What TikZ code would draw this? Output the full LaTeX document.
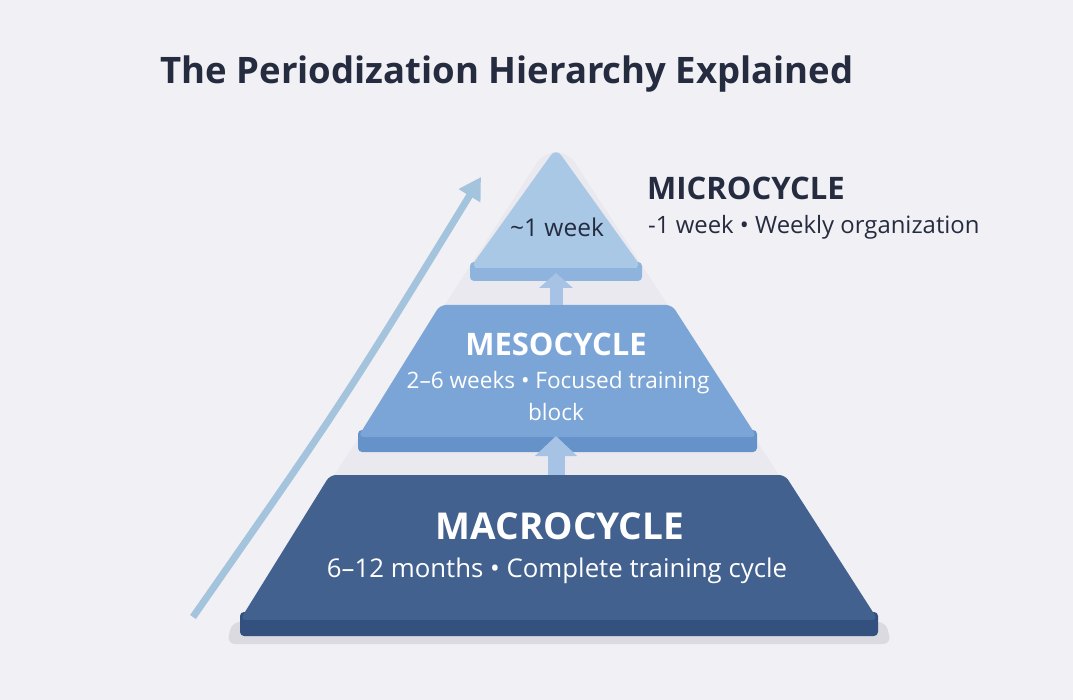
\documentclass[tikz,border=0pt]{standalone}
\usepackage{fontspec}
\setmainfont{Open Sans}
\usetikzlibrary{arrows.meta}
\definecolor{pageColor}{HTML}{F1F0F4}
\definecolor{hazeColor}{HTML}{EAE9EF}
\definecolor{shadowColor}{HTML}{DADAE0}
\definecolor{inkColor}{HTML}{252C40}
\definecolor{microFace}{HTML}{A9C8E6}
\definecolor{microSide}{HTML}{8EB3DD}
\definecolor{mesoFace}{HTML}{7BA5D6}
\definecolor{mesoSide}{HTML}{6592C9}
\definecolor{macroFace}{HTML}{42618F}
\definecolor{macroSide}{HTML}{33507E}
\definecolor{stepColor}{HTML}{A6C2E4}
\definecolor{riseColor}{HTML}{A4C4DE}

\begin{document}
\begin{tikzpicture}[
            x=1pt, y=-1pt,
            every node/.append style={inner sep=0pt},
            tier face/.style={rounded corners=6pt},
            tier side/.style={rounded corners=4pt},
            step arrow/.style={draw=stepColor, line width=13pt, -{Triangle[width=33pt, length=15pt]}},
            big step arrow/.style={draw=stepColor, line width=17pt, -{Triangle[width=41pt, length=20pt]}},
            heading/.style={font=\bfseries\fontsize{31pt}{34pt}\selectfont},
            detail/.style={font=\fontsize{22.6pt}{27pt}\selectfont},
        ]
        \fill[pageColor] (0,0) rectangle (1073,700);
        \useasboundingbox (0,0) rectangle (1073,700);
        \fill[hazeColor, rounded corners=12pt] (544,152) -- (568,152) -- (888,642) -- (226,642) -- cycle;
        \fill[shadowColor, rounded corners=8pt] (232,622) -- (886,622) -- (891,644) -- (227,644) -- cycle;

        % tiers, bottom to top
        \fill[macroSide, tier side] (240,612) -- (878,612) -- (878,636) -- (240,636) -- cycle;
        \fill[macroFace, tier face] (330,475) -- (785,475) -- (878,620) -- (240,620) -- cycle;
        \fill[mesoSide, tier side] (358,430) -- (757,430) -- (757,452) -- (358,452) -- cycle;
        \fill[mesoFace, tier face] (440,305) -- (672,305) -- (757,437) -- (358,437) -- cycle;
        \fill[microSide, tier side] (470,262) -- (642,262) -- (642,281) -- (470,281) -- cycle;
        \fill[microFace, rounded corners=9pt] (556,148) -- (642,268) -- (470,268) -- cycle;
        \fill[microFace] (475,262) rectangle (637,268);

        \coordinate (microbottom) at (556,273);
        \coordinate (mesotop) at (556,305);
        \coordinate (mesobottom) at (556,436);
        \coordinate (macrotop) at (556,475);
        \draw[step arrow] (mesotop) -- (microbottom);
        \draw[big step arrow] (macrotop) -- (mesobottom);

        \coordinate (risestart) at (193,617);
        \coordinate (riseend) at (481,177);
        \draw[riseColor, line width=7pt, -{Triangle[width=24pt, length=22pt]}] (risestart) .. controls (343,402) .. (riseend);

        \node[font=\bfseries\fontsize{36.5pt}{42pt}\selectfont, text=inkColor] (title) at (507,74) {The Periodization Hierarchy Explained};

        \node[font=\fontsize{24.5pt}{28pt}\selectfont, text=inkColor] (microweek) at (557,227) {\textasciitilde1 week};
        \node[heading, text=inkColor, anchor=base west] (micro) at (647,200) {MICROCYCLE};
        \node[font=\fontsize{23.9pt}{28pt}\selectfont, text=inkColor, anchor=base west] (microdetail) at (648,234) {-1 week \textbullet{} Weekly organization};

        \node[heading, text=white] (meso) at (556,344) {MESOCYCLE};
        \node[detail, text=white] (mesodetail) at (558,383) {2--6 weeks \textbullet{} Focused training};
        \node[detail, text=white] (mesoblock) at (556,412) {block};

        \node[font=\bfseries\fontsize{37pt}{42pt}\selectfont, text=white] (macro) at (560,526) {MACROCYCLE};
        \node[font=\fontsize{25.8pt}{30pt}\selectfont, text=white] (macrodetail) at (557,571) {6--12 months \textbullet{} Complete training cycle};
    \end{tikzpicture}
\end{document}
